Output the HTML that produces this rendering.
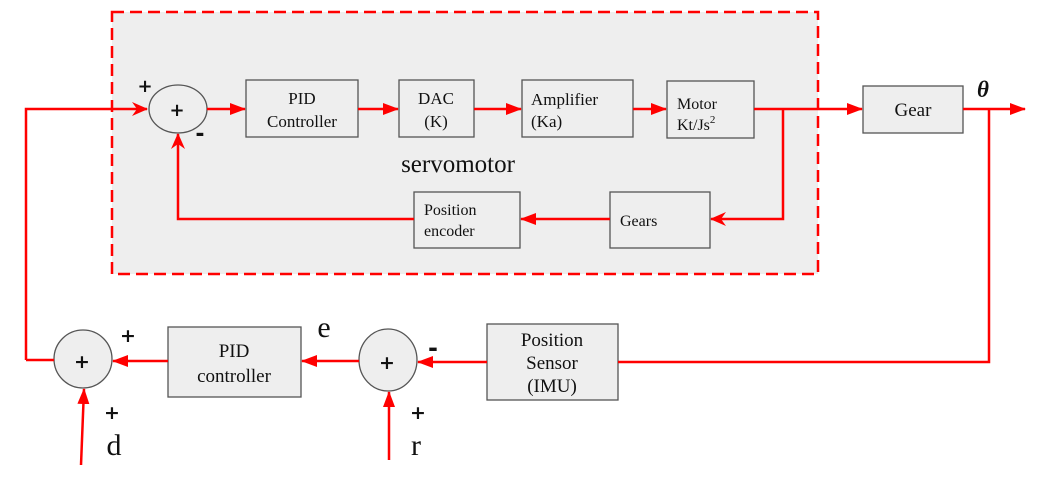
<!DOCTYPE html>
<html><head><meta charset="utf-8"><style>
body{margin:0;background:#fff}
svg text{font-family:"Liberation Serif",serif;fill:#111}
.s{font-family:"DejaVu Sans",sans-serif !important;font-weight:bold}
</style></head><body>
<svg width="1040" height="483" viewBox="0 0 1040 483" xmlns="http://www.w3.org/2000/svg">
<defs>
<marker id="a" markerWidth="16" markerHeight="12" refX="15" refY="6" orient="auto" markerUnits="userSpaceOnUse"><path d="M0,0 L16,6 L0,12 Z" fill="#f00"/></marker>
<marker id="b" markerWidth="16" markerHeight="14" refX="15" refY="7" orient="auto" markerUnits="userSpaceOnUse"><path d="M0,0 L16,7 L0,14 L5,7 Z" fill="#f00"/></marker>
</defs>
<rect x="112" y="12" width="706" height="262" fill="#eee" stroke="#f00" stroke-width="2.5" stroke-dasharray="12,6"/>
<g fill="#eee" stroke="#555" stroke-width="1.3">
<ellipse cx="178" cy="109" rx="29" ry="24"/>
<rect x="246" y="80" width="112" height="57"/>
<rect x="399" y="80" width="75" height="57"/>
<rect x="522" y="80" width="111" height="57"/>
<rect x="667" y="81" width="87" height="57"/>
<rect x="863" y="86" width="100" height="47"/>
<rect x="610" y="192" width="100" height="56"/>
<rect x="414" y="192" width="106" height="56"/>
<ellipse cx="83" cy="359" rx="29" ry="29"/>
<rect x="168" y="327" width="133" height="70"/>
<ellipse cx="388" cy="360" rx="29" ry="31"/>
<rect x="487" y="324" width="131" height="76"/>
</g>
<g stroke="#f00" stroke-width="2.5" fill="none">
<path d="M26,360 V109 H147" marker-end="url(#b)"/>
<path d="M207,109 H245" marker-end="url(#a)"/>
<path d="M358,109 H398" marker-end="url(#a)"/>
<path d="M474,109 H521" marker-end="url(#a)"/>
<path d="M633,109 H666" marker-end="url(#a)"/>
<path d="M754,109 H862" marker-end="url(#a)"/>
<path d="M963,109 H1025" marker-end="url(#a)"/>
<path d="M783,109 V219 H711" marker-end="url(#b)"/>
<path d="M610,219 H521" marker-end="url(#a)"/>
<path d="M414,219 H178 V134" marker-end="url(#b)"/>
<path d="M989,109 V362 H618"/>
<path d="M487,362 H418" marker-end="url(#a)"/>
<path d="M359,361 H302" marker-end="url(#a)"/>
<path d="M168,361 H113" marker-end="url(#a)"/>
<path d="M54,360 H26"/>
<path d="M81,465 L84,389" marker-end="url(#a)"/>
<path d="M389,460 L389,392" marker-end="url(#a)"/>
</g>
<g font-size="17" text-anchor="middle">
<text x="302" y="104">PID</text><text x="302" y="127">Controller</text>
<text x="436" y="104">DAC</text><text x="436" y="127">(K)</text>
<text x="531" y="105" text-anchor="start">Amplifier</text><text x="531" y="127" text-anchor="start">(Ka)</text>
<text x="677" y="109" text-anchor="start" font-size="16">Motor</text><text x="677" y="130" text-anchor="start" font-size="16">Kt/Js<tspan font-size="11" dy="-7">2</tspan></text>
<text x="913" y="116" font-size="19">Gear</text>
<text x="620" y="226" text-anchor="start" font-size="16">Gears</text>
<text x="424" y="215" text-anchor="start" font-size="16">Position</text><text x="424" y="236" text-anchor="start" font-size="16">encoder</text>
<text x="458" y="172" font-size="25">servomotor</text>
<text x="234" y="357" font-size="19">PID</text><text x="234" y="382" font-size="19">controller</text>
<text x="552" y="346" font-size="19">Position</text><text x="552" y="369" font-size="19">Sensor</text><text x="552" y="392" font-size="19">(IMU)</text>
<text x="324" y="337" font-size="30">e</text>
<text x="114" y="455" font-size="30">d</text>
<text x="416" y="455" font-size="30">r</text>
<text x="983" y="97" font-size="23" font-weight="bold" font-style="italic">θ</text>
</g>
<g class="s" font-size="18" text-anchor="middle">
<text class="s" x="177" y="116">+</text>
<text class="s" x="145" y="92">+</text>
<text class="s" x="200" y="141" font-size="22">-</text>
<text class="s" x="82" y="368" font-size="19">+</text>
<text class="s" x="387" y="369" font-size="19">+</text>
<text class="s" x="128" y="342" font-size="19">+</text>
<text class="s" x="112" y="419" font-size="19">+</text>
<text class="s" x="418" y="419" font-size="19">+</text>
<text class="s" x="433" y="356" font-size="24">-</text>
</g>
</svg>
</body></html>
